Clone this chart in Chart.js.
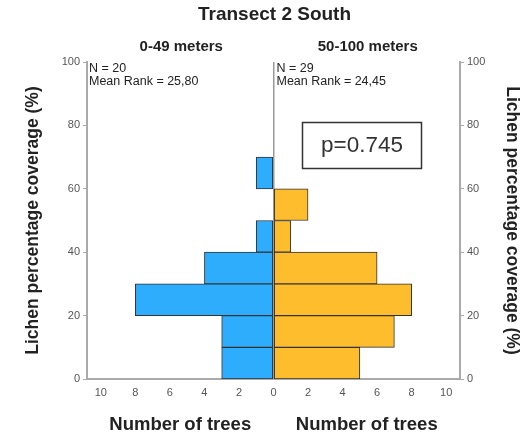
<!DOCTYPE html>
<html><head><meta charset="utf-8">
<script src="https://cdn.jsdelivr.net/npm/chart.js@4"></script>
<style>html,body{margin:0;padding:0;background:#fff}canvas{display:block}</style>
</head><body><canvas id="c" width="520" height="435"></canvas>
<script>
// ---- data ----
const binLabels = ['0-10','10-20','20-30','30-40','40-50','50-60','60-70','70-80','80-90','90-100'];
const nearCounts = [3,3,8,4,1,0,1,0,0,0];   // 0-49 meters (N = 20)
const farCounts  = [5,7,8,6,1,2,0,0,0,0];   // 50-100 meters (N = 29)
const yTicks = [0,20,40,60,80,100];
const xTicks = [-10,-8,-6,-4,-2,0,2,4,6,8,10];
const chartTitle = 'Transect 2 South';
const groupNames = ['0-49 meters','50-100 meters'];
const groupStats = [['N = 20','Mean Rank = 25,80'],['N = 29','Mean Rank = 24,45']];
const pText = 'p=0.745';
const yTitle = 'Lichen percentage coverage (%)';
const xTitle = 'Number of trees';

const FONT = '"Liberation Sans", Arial, sans-serif';
const BLUE = '#2FADFD', YELLOW = '#FDBD2C', FRAME = '#aaaaaa';

const annot = {
  id: 'annot',
  afterDraw(chart) {
    const {ctx, chartArea: ca} = chart;
    const cx = chart.scales.x.getPixelForValue(0);
    const lc = (ca.left + cx) / 2, rc = (cx + ca.right) / 2;
    ctx.save();
    ctx.fillStyle = '#222';
    ctx.textAlign = 'center'; ctx.textBaseline = 'middle';
    ctx.font = 'bold 19px ' + FONT;
    ctx.fillText(chartTitle, cx + 1, 15);
    ctx.font = 'bold 15px ' + FONT;
    ctx.fillText(groupNames[0], lc + 1, 47);
    ctx.fillText(groupNames[1], rc + 1, 47);
    ctx.font = 'bold 18.5px ' + FONT;
    ctx.fillText(xTitle, lc, 425);
    ctx.fillText(xTitle, rc, 425);
    ctx.textAlign = 'left';
    ctx.font = '12.5px ' + FONT;
    ctx.fillText(groupStats[0][0], ca.left + 2, 69);
    ctx.fillText(groupStats[0][1], ca.left + 2, 82);
    ctx.fillText(groupStats[1][0], cx + 3, 69);
    ctx.fillText(groupStats[1][1], cx + 3, 82);
    // p-value box
    ctx.strokeStyle = '#333'; ctx.lineWidth = 1.5;
    ctx.strokeRect(302.5, 122.5, 119, 46);
    ctx.textAlign = 'center';
    ctx.fillStyle = '#333';
    ctx.font = '22.5px ' + FONT;
    ctx.fillText(pText, 362, 146);
    ctx.restore();
  }
};

new Chart(document.getElementById('c'), {
  type: 'bar',
  data: {
    labels: binLabels,
    datasets: [
      { label: groupNames[0], data: nearCounts.map(v => v ? -v : null),
        backgroundColor: BLUE, borderColor: '#333', borderWidth: 1, borderSkipped: false,
        barPercentage: 1, categoryPercentage: 1, xAxisID: 'x', yAxisID: 'yc' },
      { label: groupNames[1], data: farCounts.map(v => v ? v : null),
        backgroundColor: YELLOW, borderColor: '#333', borderWidth: 1, borderSkipped: false,
        barPercentage: 1, categoryPercentage: 1, xAxisID: 'x', yAxisID: 'yc' }
    ]
  },
  options: {
    indexAxis: 'y',
    responsive: false,
    animation: false,
    devicePixelRatio: 1,
    layout: { padding: { top: 62, left: 0, right: 0, bottom: 0 } },
    plugins: { legend: { display: false }, tooltip: { enabled: false } },
    scales: {
      x: {
        type: 'linear', min: -10.8, max: 10.8, stacked: true, offset: false,
        afterBuildTicks(s) { s.ticks = xTicks.map(v => ({ value: v })); },
        afterFit(s) { s.height = 56; },
        ticks: { callback: v => String(Math.abs(v)), color: '#555', font: { family: FONT, size: 11 }, padding: 7, maxRotation: 0, autoSkip: false },
        grid: { offset: false, drawTicks: false, color: c => (c.tick && c.tick.value === 0) ? '#999' : 'rgba(0,0,0,0)', lineWidth: 1.5 },
        border: { display: true, color: FRAME, width: 2 }
      },
      yc: { type: 'category', display: false, reverse: true, stacked: true, position: 'left' },
      yl: {
        type: 'linear', position: 'left', min: 0, max: 100, offset: false,
        afterBuildTicks(s) { s.ticks = yTicks.map(v => ({ value: v })); },
        afterFit(s) { s.width = 87; },
        ticks: { color: '#555', font: { family: FONT, size: 11 }, padding: 3 },
        grid: { offset: false, drawOnChartArea: false, drawTicks: true, tickLength: 4, color: FRAME },
        border: { display: true, color: FRAME, width: 2 },
        title: { display: true, text: yTitle, color: '#222', font: { family: FONT, size: 17.5, weight: 'bold', lineHeight: 1 }, padding: { top: 24, bottom: 0 } }
      },
      yr: {
        type: 'linear', position: 'right', min: 0, max: 100, offset: false,
        afterBuildTicks(s) { s.ticks = yTicks.map(v => ({ value: v })); },
        afterFit(s) { s.width = 60; },
        ticks: { color: '#555', font: { family: FONT, size: 11 }, padding: 3 },
        grid: { offset: false, drawOnChartArea: false, drawTicks: true, tickLength: 4, color: FRAME },
        border: { display: true, color: FRAME, width: 2 },
        title: { display: true, text: yTitle, color: '#222', font: { family: FONT, size: 17.5, weight: 'bold', lineHeight: 1 }, padding: { top: -1, bottom: 0 } }
      }
    }
  },
  plugins: [annot]
});
</script>
</body></html>
